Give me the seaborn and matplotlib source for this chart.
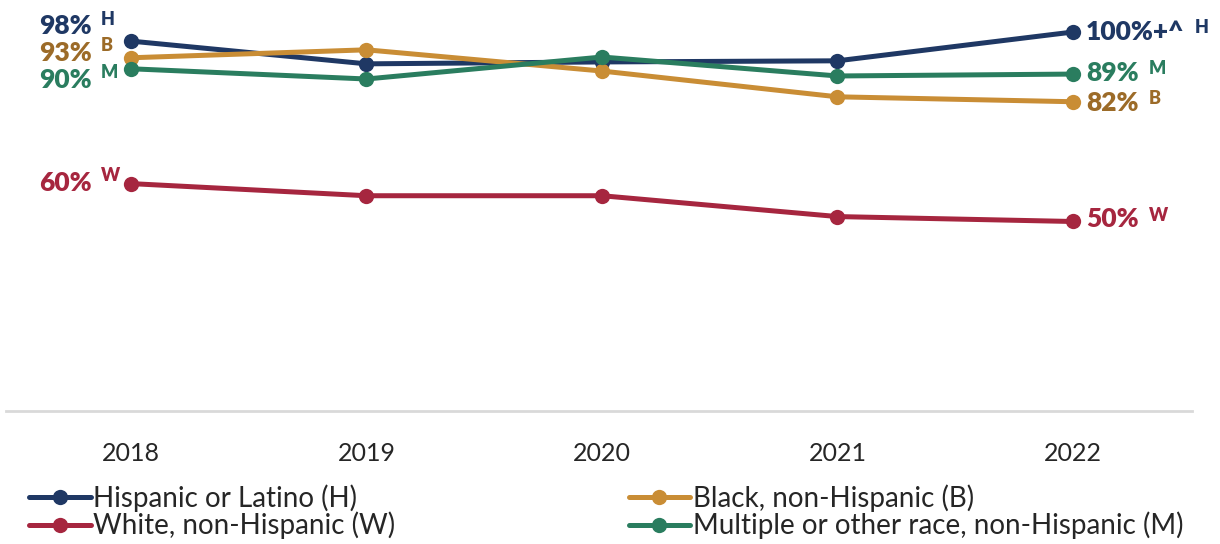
import matplotlib
matplotlib.use("Agg")
import matplotlib.pyplot as plt
from matplotlib.lines import Line2D
import seaborn as sns
import pandas as pd

years = [2018, 2019, 2020, 2021, 2022]
hispanic = [97.6, 91.6, 92.1, 92.4, 100.0]
black = [93.2, 95.3, 89.7, 82.9, 81.6]
multiple = [90.3, 87.6, 93.4, 88.4, 88.9]
white = [60.0, 56.8, 56.8, 51.3, 50.0]

groups = ["Hispanic or Latino (H)", "White, non-Hispanic (W)",
          "Black, non-Hispanic (B)", "Multiple or other race, non-Hispanic (M)"]
colors = ["#1f3864", "#a6263f", "#c98d35", "#2a7d5f"]
text_colors = ["#1f3864", "#a6263f", "#9c6b28", "#2a7d5f"]

start_labels = ["98%", "60%", "93%", "90%"]
end_labels = ["100%+^", "50%", "82%", "89%"]
letters = ["H", "W", "B", "M"]

df = pd.concat([
    pd.DataFrame({"year": years, "pct": vals, "group": g})
    for vals, g in zip([hispanic, white, black, multiple], groups)
])

sns.set_style("white")
plt.rcParams["font.family"] = ["Lato", "DejaVu Sans"]

fig = plt.figure(figsize=(12.2, 5.44), dpi=100)
ax = fig.add_axes([0.005, 0.2445, 0.972, 0.7315])

palette = dict(zip(groups, colors))
sns.lineplot(data=df, x="year", y="pct", hue="group", palette=palette,
             marker="o", markersize=11, markeredgewidth=0, linewidth=3.6,
             legend=False, ax=ax, sort=False)

ax.set_xlim(2017.47, 2022.505)
ax.set_ylim(0, 105)
ax.set_yticks([])
ax.set_xticks(years)
ax.set_xticklabels([str(y) for y in years], fontsize=18)
ax.tick_params(axis="x", length=0, pad=22)
ax.set_xlabel("")
ax.set_ylabel("")
for s in ["top", "left", "right"]:
    ax.spines[s].set_visible(False)
ax.spines["bottom"].set_color("#d9d9d9")
ax.spines["bottom"].set_linewidth(2)

series = [hispanic, white, black, multiple]
# label offsets in pixels (dy for start labels)
start_dy = [15, 1, 5, -11]
end_dy = [0, 2, -1, 1]
for vals, lab0, lab1, let, tc, dy0, dy1 in zip(series, start_labels, end_labels,
                                                 letters, text_colors, start_dy, end_dy):
    ax.annotate(lab0, (years[0], vals[0]), xytext=(-39, dy0),
                textcoords="offset pixels", ha="right", va="center",
                fontsize=19, fontweight="heavy", color=tc)
    ax.annotate(let, (years[0], vals[0]), xytext=(-30, dy0 + 7),
                textcoords="offset pixels", ha="left", va="center",
                fontsize=13, fontweight="heavy", color=tc)
    t = ax.annotate(lab1, (years[-1], vals[-1]), xytext=(13, dy1),
                    textcoords="offset pixels", ha="left", va="center",
                    fontsize=19, fontweight="heavy", color=tc)
    fig.canvas.draw()
    bb = t.get_window_extent()
    ax.annotate(let, (bb.x1 + 10, bb.y0 + bb.height * 0.68), xycoords="figure pixels",
                ha="left", va="center", fontsize=13, fontweight="heavy", color=tc)

handles = [Line2D([0], [0], color=c, lw=3.6, marker="o", markersize=11,
                  markeredgewidth=0) for c in colors]
fig.legend(handles, groups, loc="lower left", bbox_to_anchor=(0.015, -0.012),
           ncol=2, frameon=False, fontsize=20, handlelength=2.2,
           handletextpad=0.1, columnspacing=8.4, labelspacing=0.0,
           borderaxespad=0)

fig.savefig("out.png", dpi=100)
